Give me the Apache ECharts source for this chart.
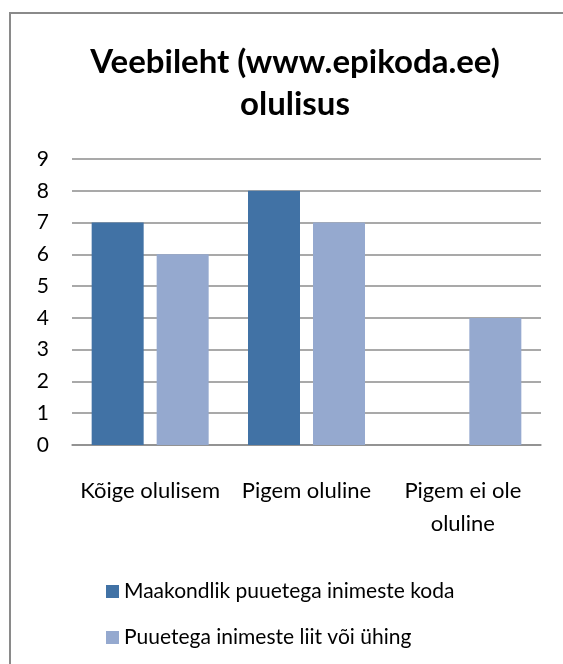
<!DOCTYPE html>
<html>
<head>
    <meta charset="UTF-8">
    <title>Veebileht olulisus</title>
    <script src="https://cdn.jsdelivr.net/npm/echarts@6/dist/echarts.min.js"></script>
    <style>
        body, html {
            margin: 0;
            padding: 0;
            height: 100%;
            width: 100%;
            background: #fff;
        }
        #chart {
            width: 563px;
            height: 664px;
        }
    </style>
</head>
<body>
<div id="chart"></div>
<script>
    var categories = ['Kõige olulisem', 'Pigem oluline', 'Pigem ei ole\noluline'];
    var seriesNames = ['Maakondlik puuetega inimeste koda', 'Puuetega inimeste liit või ühing'];
    var kodaValues = [7, 8, null];
    var liitValues = [6, 7, 4];
    var yTicks = {min: 0, max: 9, interval: 1};

    var font = 'Lato, "Open Sans", sans-serif';
    var chart = echarts.init(document.getElementById('chart'), null, {renderer: 'canvas'});

    chart.setOption({
        backgroundColor: '#fff',
        animation: false,
        graphic: [{
            type: 'rect',
            shape: {x: 10, y: 13, width: 700, height: 700},
            style: {fill: 'none', stroke: '#8a8a8a', lineWidth: 2},
            silent: true
        }],
        title: {
            text: 'Veebileht (www.epikoda.ee)\nolulisus',
            left: 290,
            top: 36,
            textAlign: 'center',
            textStyle: {
                fontFamily: font,
                fontWeight: 'bold',
                fontSize: 33,
                lineHeight: 42,
                color: '#000'
            }
        },
        legend: {
            orient: 'vertical',
            left: 101,
            top: 576,
            itemWidth: 13,
            itemHeight: 13,
            itemGap: 25,
            icon: 'rect',
            textStyle: {fontFamily: font, fontSize: 21, color: '#000'},
            data: seriesNames
        },
        grid: {left: 72, right: 22, top: 159, bottom: 219, containLabel: false},
        xAxis: {
            type: 'category',
            data: categories,
            axisTick: {show: false},
            axisLine: {show: true, lineStyle: {color: '#8c8c8c', width: 1.5}},
            axisLabel: {
                fontFamily: font, fontSize: 22, color: '#000',
                margin: 29, lineHeight: 33, interval: 0
            }
        },
        yAxis: {
            type: 'value',
            min: yTicks.min,
            max: yTicks.max,
            interval: yTicks.interval,
            axisLine: {show: false},
            axisTick: {show: false},
            axisLabel: {fontFamily: font, fontSize: 21, color: '#000', margin: 23},
            splitLine: {lineStyle: {color: '#8c8c8c', width: 1.5}}
        },
        series: [{
            name: seriesNames[0],
            type: 'bar',
            data: kodaValues,
            barWidth: 52,
            barGap: '25%',
            itemStyle: {color: '#4172a5'}
        }, {
            name: seriesNames[1],
            type: 'bar',
            data: liitValues,
            barWidth: 52,
            itemStyle: {color: '#95a9cf'}
        }]
    });
</script>
</body>
</html>
